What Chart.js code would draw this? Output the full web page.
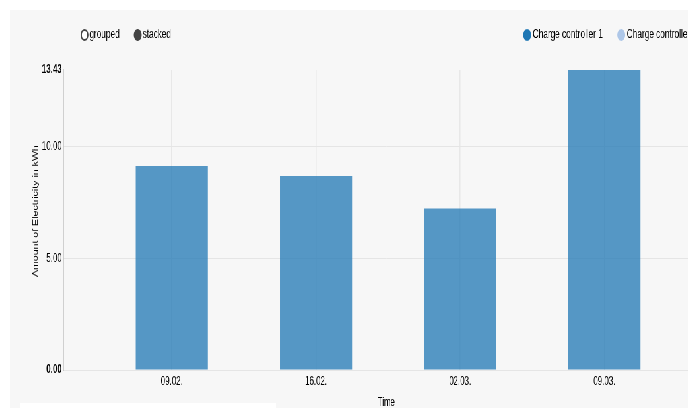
<!DOCTYPE html>
<html>
<head>
<meta charset="utf-8">
<script src="https://cdn.jsdelivr.net/npm/chart.js@4"></script>
<style>
  html, body { margin: 0; padding: 0; width: 688px; height: 408px; overflow: hidden; background: #fff; }
  /* the original chart is squeezed horizontally, so draw it wide and scale it down */
  #wrap { position: absolute; left: 10px; top: 10px; width: 1060px; height: 405px; background: #f7f7f7;
          transform: scaleX(0.66); transform-origin: 0 0; }
  #strip { position: absolute; left: 20px; top: 403px; width: 256px; height: 5px; background: #fff; }
</style>
</head>
<body>
<div id="wrap"><canvas id="myChart"></canvas></div>
<div id="strip"></div>
<script>
const categories = ["09.02.", "16.02.", "02.03.", "09.03."];
const controller1 = [9.13, 8.68, 7.23, 13.43];
const controller2 = [0, 0, 0, 0];
const yTicks = [0, 5, 10, 13.43];
const seriesNames = ["Charge controller 1", "Charge controller 2"];
const modes = ["grouped", "stacked"];

const FONT = '"Liberation Sans", Arial, sans-serif';
Chart.defaults.font.family = FONT;
Chart.defaults.font.size = 12;
Chart.defaults.color = '#000';

var yMax = yTicks[yTicks.length - 1];

// nvd3 style legends (mode switch on the left, series on the right)
const nvLegend = {
  id: 'nvLegend',
  afterDraw(chart) {
    const ctx = chart.ctx;
    ctx.save();
    ctx.font = '12.5px ' + FONT;
    ctx.textBaseline = 'middle';
    ctx.lineWidth = 2;

    let x = 112.9;
    modes.forEach((m, i) => {
      ctx.beginPath();
      ctx.arc(x, 25, 5, 0, Math.PI * 2);
      ctx.fillStyle = i === 1 ? '#444' : '#fff';
      ctx.fill();
      ctx.strokeStyle = '#444';
      ctx.stroke();
      ctx.fillStyle = '#000';
      ctx.fillText(m, x + 7.4, 24.5);
      x += 80.6;
    });

    x = 783.6;
    chart.data.datasets.forEach(ds => {
      ctx.beginPath();
      ctx.arc(x, 25, 5, 0, Math.PI * 2);
      ctx.fillStyle = ds.legendColor;
      ctx.strokeStyle = ds.legendColor;
      ctx.fill();
      ctx.stroke();
      ctx.fillStyle = '#000';
      ctx.fillText(ds.label, x + 8.4, 24.5);
      x += 8.4 + ctx.measureText(ds.label).width + 27.8;
    });
    ctx.restore();
  }
};

new Chart("myChart", {
  type: "bar",
  data: {
    datasets: [{
      label: seriesNames[0],
      data: controller1.map((v, i) => ({x: i, y: v})),
      backgroundColor: 'rgba(31,119,180,0.75)',
      legendColor: '#1f77b4'
    }, {
      label: seriesNames[1],
      data: controller2.map((v, i) => ({x: i, y: v})),
      backgroundColor: 'rgba(174,199,232,0.75)',
      legendColor: '#aec7e8'
    }]
  },
  options: {
    responsive: true,
    maintainAspectRatio: false,
    animation: false,
    layout: {padding: {top: 60, left: 0, right: 0, bottom: 0}},
    datasets: {bar: {barPercentage: 0.5, categoryPercentage: 1}},
    plugins: {legend: {display: false}, tooltip: {enabled: false}},
    scales: {
      x: {
        type: 'linear',
        stacked: true,
        offset: false,
        min: -0.7545,
        max: 3.7295,
        afterBuildTicks: s => { s.ticks = categories.map((c, i) => ({value: i})); },
        afterFit: s => { s.height = 45; },
        ticks: {callback: v => categories[v], padding: 4, maxRotation: 0, autoSkip: false},
        grid: {color: '#e8e8e8', lineWidth: 1.5, drawTicks: false, offset: false},
        border: {color: '#e5e5e5', width: 1},
        title: {display: true, text: 'Time', padding: {top: 0, bottom: 5.5}}
      },
      y: {
        stacked: true,
        min: 0,
        max: yMax,
        afterBuildTicks: s => { s.ticks = yTicks.map(v => ({value: v})); },
        afterFit: s => { s.width = 80.3; },
        ticks: {
          callback: v => v.toFixed(2),
          padding: 2,
          autoSkip: false,
          font: c => ({family: FONT, size: 12,
            weight: c.tick && (c.tick.value === 0 || c.tick.value === yMax) ? 'bold' : 'normal'})
        },
        grid: {
          color: c => c.tick && c.tick.value === yMax ? 'rgba(0,0,0,0)' : '#e5e5e5',
          lineWidth: 1,
          drawTicks: false
        },
        border: {color: '#aaa', width: 1.5},
        // leading spaces nudge the label up like the original
        title: {display: true, text: '      Amount of Electricity in kWh', font: {size: 10.6}, padding: {top: 33, bottom: 0}}
      }
    }
  },
  plugins: [nvLegend]
});
</script>
</body>
</html>
